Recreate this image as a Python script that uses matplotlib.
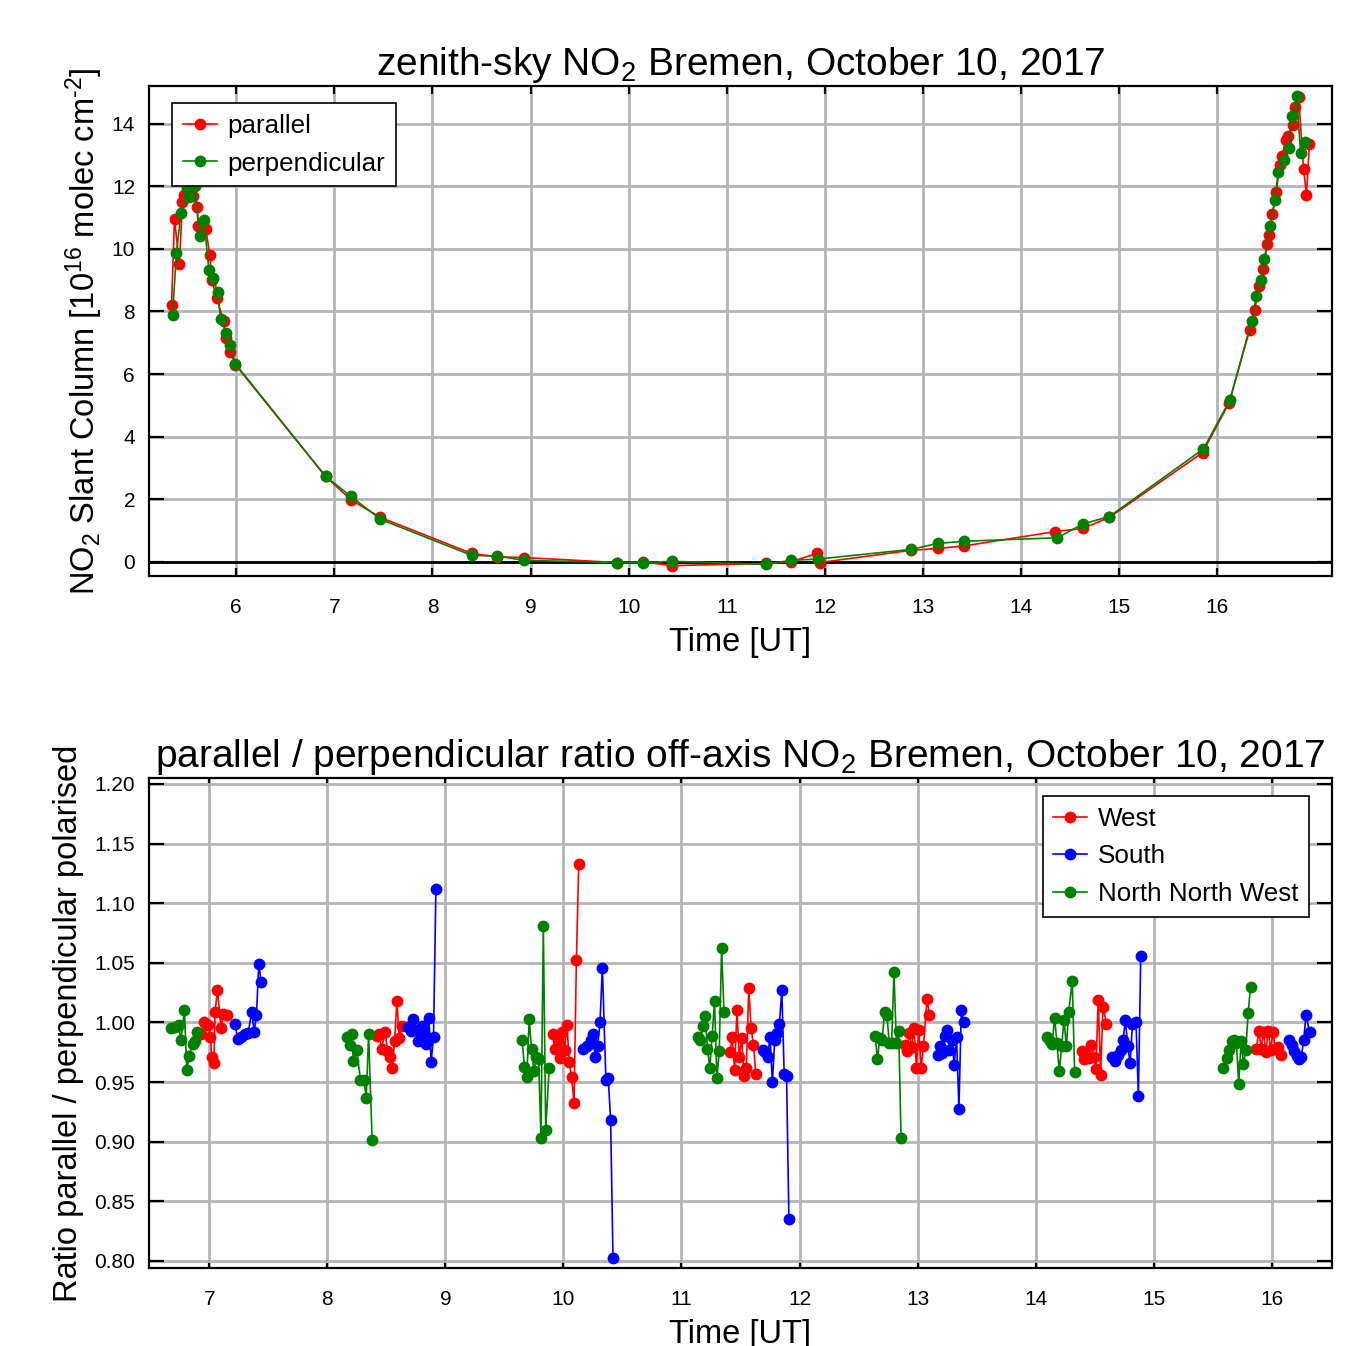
import matplotlib
matplotlib.use("Agg")
import matplotlib.pyplot as plt
from matplotlib.ticker import FormatStrFormatter

plt.rcParams['font.family'] = ['Liberation Sans', 'DejaVu Sans']
plt.rcParams['mathtext.default'] = 'regular'

# --- zenith-sky slant columns (10^16 molec cm-2) ---
par_t = [5.34, 5.37, 5.42, 5.45, 5.47, 5.52, 5.56, 5.60, 5.61, 5.69, 5.73, 5.75, 5.80,
         5.87, 5.89, 5.94, 5.99, 6.91, 7.17, 7.47, 8.40, 8.66, 8.93, 9.88, 10.15, 10.44,
         11.40, 11.65, 11.92, 11.95, 12.88, 13.15, 13.42, 14.35, 14.63, 14.90, 15.85,
         16.12, 16.33, 16.38, 16.43, 16.47, 16.51, 16.53, 16.56, 16.60, 16.64, 16.66,
         16.70, 16.72, 16.77, 16.79, 16.83, 16.88, 16.91, 16.94]
par_v = [8.21, 10.95, 9.51, 11.48, 11.73, 11.95, 11.70, 11.32, 10.72, 10.63, 9.79, 9.01, 8.43,
         7.68, 7.15, 6.72, 6.30, 2.73, 1.98, 1.42, 0.27, 0.16, 0.14, -0.02, 0.00, -0.12,
         -0.05, 0.00, 0.27, -0.02, 0.37, 0.43, 0.51, 0.97, 1.07, 1.42, 3.49,
         5.07, 7.41, 8.05, 8.82, 9.35, 10.16, 10.45, 11.11, 11.80, 12.69, 12.98,
         13.49, 13.59, 13.97, 14.53, 14.85, 12.55, 11.73, 13.36]

perp_t = [5.35, 5.39, 5.435, 5.50, 5.52, 5.58, 5.625, 5.67, 5.72, 5.76, 5.81, 5.84, 5.90,
          5.94, 5.99, 6.91, 7.17, 7.47, 8.40, 8.66, 8.93, 9.88, 10.15, 10.44, 11.40, 11.65,
          11.93, 12.88, 13.15, 13.42, 14.37, 14.63, 14.90, 15.86, 16.13, 16.35, 16.40,
          16.445, 16.48, 16.54, 16.59, 16.62, 16.68, 16.73, 16.76, 16.81, 16.85, 16.89]
perp_v = [7.89, 9.87, 11.14, 11.95, 11.67, 12.00, 10.42, 10.93, 9.33, 9.07, 8.62, 7.76, 7.31,
          6.94, 6.33, 2.73, 2.09, 1.36, 0.21, 0.19, 0.05, -0.02, -0.03, 0.02, -0.08, 0.05,
          0.09, 0.40, 0.59, 0.66, 0.77, 1.21, 1.45, 3.61, 5.18, 7.68, 8.48,
          8.99, 9.67, 10.72, 11.57, 12.44, 12.85, 13.22, 14.25, 14.87, 13.06, 13.40]

# --- off-axis parallel / perpendicular ratio, one list per viewing direction ---
west_t = [
    [6.93, 6.96, 6.99, 7.01, 7.02, 7.04, 7.05, 7.07, 7.10, 7.12, 7.15],
    [8.42, 8.44, 8.46, 8.49, 8.51, 8.53, 8.55, 8.57, 8.59, 8.61, 8.63],
    [9.91, 9.93, 9.95, 9.97, 9.99, 10.01, 10.03, 10.05, 10.07, 10.09, 10.11, 10.13],
    [11.41, 11.43, 11.45, 11.47, 11.49, 11.51, 11.53, 11.55, 11.57, 11.59, 11.61, 11.63],
    [12.89, 12.91, 12.93, 12.95, 12.97, 12.99, 13.01, 13.03, 13.05, 13.08, 13.10],
    [14.39, 14.41, 14.43, 14.45, 14.47, 14.49, 14.51, 14.53, 14.55, 14.57, 14.60],
    [15.87, 15.89, 15.91, 15.93, 15.95, 15.97, 15.99, 16.01, 16.03, 16.05, 16.08],
]
west_r = [
    [0.990, 1.000, 0.998, 0.988, 0.971, 0.966, 1.009, 1.027, 0.995, 1.007, 1.006],
    [0.989, 0.990, 0.978, 0.992, 0.976, 0.971, 0.962, 0.984, 1.018, 0.987, 0.997],
    [0.990, 0.978, 0.985, 0.970, 0.992, 0.977, 0.998, 0.967, 0.954, 0.932, 1.052, 1.133],
    [0.975, 0.988, 0.960, 1.010, 0.971, 0.987, 0.955, 0.962, 1.029, 0.995, 0.981, 0.957],
    [0.981, 0.976, 0.991, 0.979, 0.995, 0.962, 0.994, 0.962, 0.980, 1.020, 1.006],
    [0.976, 0.969, 0.973, 0.970, 0.981, 0.971, 0.961, 1.019, 0.956, 1.013, 0.999],
    [0.978, 0.993, 0.978, 0.992, 0.975, 0.993, 0.977, 0.992, 0.978, 0.979, 0.973],
]
south_t = [
    [7.22, 7.24, 7.27, 7.30, 7.33, 7.36, 7.38, 7.40, 7.42, 7.44],
    [8.68, 8.71, 8.73, 8.75, 8.77, 8.80, 8.82, 8.84, 8.86, 8.88, 8.90, 8.92],
    [10.17, 10.20, 10.23, 10.25, 10.27, 10.29, 10.31, 10.33, 10.36, 10.38, 10.40, 10.42],
    [11.69, 11.71, 11.73, 11.75, 11.77, 11.79, 11.81, 11.83, 11.85, 11.87, 11.89, 11.91],
    [13.17, 13.19, 13.21, 13.23, 13.25, 13.27, 13.29, 13.31, 13.33, 13.35, 13.37, 13.39],
    [14.65, 14.67, 14.70, 14.72, 14.74, 14.76, 14.78, 14.80, 14.82, 14.85, 14.87, 14.89],
    [16.15, 16.17, 16.19, 16.21, 16.23, 16.25, 16.27, 16.29, 16.32],
]
south_r = [
    [0.999, 0.986, 0.988, 0.990, 0.991, 1.009, 0.992, 1.006, 1.049, 1.034],
    [0.996, 0.993, 1.003, 0.994, 0.984, 0.997, 0.990, 0.982, 1.004, 0.967, 0.988, 1.112],
    [0.978, 0.980, 0.985, 0.990, 0.971, 0.980, 1.000, 1.046, 0.952, 0.953, 0.918, 0.802],
    [0.977, 0.975, 0.971, 0.988, 0.950, 0.985, 0.991, 0.999, 1.027, 0.957, 0.955, 0.835],
    [0.973, 0.980, 0.974, 0.989, 0.994, 0.977, 0.985, 0.964, 0.988, 0.927, 1.010, 1.000],
    [0.971, 0.968, 0.973, 0.977, 0.985, 1.002, 0.980, 0.966, 0.999, 1.000, 0.938, 1.056],
    [0.985, 0.981, 0.976, 0.972, 0.969, 0.971, 0.985, 1.006, 0.992],
]
nnw_t = [
    [6.68, 6.71, 6.74, 6.76, 6.79, 6.81, 6.83, 6.86, 6.88, 6.90],
    [8.17, 8.19, 8.21, 8.22, 8.25, 8.28, 8.31, 8.33, 8.35, 8.38],
    [9.65, 9.67, 9.69, 9.71, 9.73, 9.75, 9.77, 9.79, 9.81, 9.83, 9.85, 9.88],
    [11.14, 11.16, 11.18, 11.20, 11.22, 11.24, 11.26, 11.28, 11.30, 11.32, 11.34, 11.36],
    [12.64, 12.66, 12.68, 12.70, 12.72, 12.74, 12.76, 12.78, 12.80, 12.82, 12.84, 12.86],
    [14.10, 14.12, 14.14, 14.16, 14.18, 14.20, 14.22, 14.24, 14.26, 14.28, 14.31, 14.33],
    [15.59, 15.62, 15.64, 15.66, 15.68, 15.70, 15.72, 15.74, 15.76, 15.78, 15.80, 15.82],
]
nnw_r = [
    [0.995, 0.996, 0.998, 0.985, 1.010, 0.960, 0.972, 0.982, 0.984, 0.992],
    [0.988, 0.981, 0.990, 0.968, 0.977, 0.952, 0.952, 0.937, 0.990, 0.901],
    [0.985, 0.963, 0.954, 1.003, 0.978, 0.959, 0.971, 0.969, 0.903, 1.081, 0.910, 0.962],
    [0.988, 0.985, 0.997, 1.005, 0.978, 0.962, 0.989, 1.018, 0.953, 0.976, 1.062, 1.009],
    [0.989, 0.969, 0.987, 0.985, 1.009, 1.006, 0.983, 0.983, 1.042, 0.983, 0.993, 0.903],
    [0.988, 0.984, 0.982, 1.004, 0.983, 0.959, 0.980, 1.002, 0.980, 1.009, 1.035, 0.958],
    [0.962, 0.970, 0.977, 0.984, 0.985, 0.983, 0.948, 0.984, 0.965, 0.977, 1.008, 1.030],
]

RED, GREEN, BLUE = '#ff0000', '#008000', '#0000ff'

fig = plt.figure(figsize=(13.52, 13.46), dpi=100)


def style(ax):
    ax.grid(True, color='#b4b4b4', linewidth=2)
    ax.set_axisbelow(True)
    for s in ax.spines.values():
        s.set_linewidth(1.6)
    ax.tick_params(axis='both', direction='in', top=True, right=True,
                   labelsize=15, width=1.6)
    ax.tick_params(axis='y', length=11, pad=10)
    ax.tick_params(axis='x', length=6, pad=16)


def legend(ax, loc, anchor):
    leg = ax.legend(loc=loc, bbox_to_anchor=anchor, borderaxespad=0, fontsize=18.7,
                    fancybox=False, framealpha=1, edgecolor='black', borderpad=0.42,
                    handlelength=1.3, handletextpad=0.4, labelspacing=0.52)
    leg.get_frame().set_linewidth(1.2)


# top panel
ax1 = fig.add_axes([149 / 1352, 1 - 576 / 1346, 1183 / 1352, 490 / 1346])
style(ax1)
ax1.axhline(0, color='black', linewidth=2, zorder=1.5)
ax1.plot(par_t, par_v, '-o', color=RED, markersize=7.5, linewidth=1.2, label='parallel')
ax1.plot(perp_t, perp_v, '-o', color=GREEN, markersize=7.5, linewidth=1.2, label='perpendicular')
ax1.set_xlim(5.11, 17.17)
ax1.set_ylim(-0.45, 15.2)
ax1.set_xticks(range(6, 17))
ax1.set_yticks(range(0, 15, 2))
ax1.set_title('zenith-sky NO$_2$ Bremen, October 10, 2017', fontsize=28, pad=8)
ax1.set_xlabel('Time [UT]', fontsize=23.5)
ax1.set_ylabel('NO$_2$ Slant Column [10$^{16}$ molec cm$^{\u20102}$]', fontsize=23.5)
ax1.xaxis.set_label_coords(0.5, -0.105)
ax1.yaxis.set_label_coords(-0.0375, 0.5)
legend(ax1, 'upper left', (0.0194, 0.965))

# bottom panel
ax2 = fig.add_axes([149 / 1352, 1 - 1268 / 1346, 1183 / 1352, 490 / 1346])
style(ax2)
for k in range(len(west_t)):
    ax2.plot(west_t[k], west_r[k], '-o', color=RED, markersize=7.5, linewidth=1.2,
             label='West' if k == 0 else None)
    ax2.plot(south_t[k], south_r[k], '-o', color=BLUE, markersize=7.5, linewidth=1.2,
             label='South' if k == 0 else None)
    ax2.plot(nnw_t[k], nnw_r[k], '-o', color=GREEN, markersize=7.5, linewidth=1.2,
             label='North North West' if k == 0 else None)
ax2.set_xlim(6.49, 16.51)
ax2.set_ylim(0.794, 1.205)
ax2.set_xticks(range(7, 17))
ax2.set_yticks([0.80, 0.85, 0.90, 0.95, 1.00, 1.05, 1.10, 1.15, 1.20])
ax2.yaxis.set_major_formatter(FormatStrFormatter('%.2f'))
ax2.set_title('parallel / perpendicular ratio off-axis NO$_2$ Bremen, October 10, 2017',
              fontsize=28, pad=8)
ax2.set_xlabel('Time [UT]', fontsize=23.5)
ax2.set_ylabel('Ratio parallel / perpendicular polarised', fontsize=23.5)
ax2.xaxis.set_label_coords(0.5, -0.105)
ax2.yaxis.set_label_coords(-0.055, 0.5)
legend(ax2, 'upper right', (0.9806, 0.9633))

fig.savefig('out.png', dpi=100)
